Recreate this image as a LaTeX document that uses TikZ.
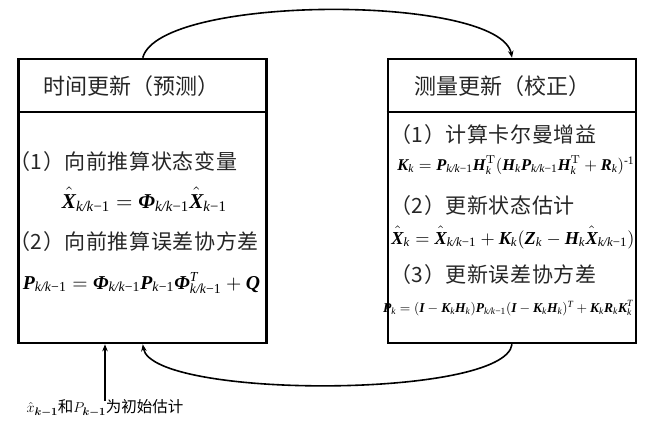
\documentclass[tikz,border=0pt]{standalone}
\usepackage{amsmath}
\usepackage{graphicx}
\usepackage{fontspec}
\newfontfamily\cjk{Noto Sans CJK SC}
\newfontfamily\tms{Liberation Serif}
\usetikzlibrary{arrows.meta}
\newcommand{\bv}[1]{\text{\tms\bfseries\itshape #1}}
\newcommand{\iv}[1]{\text{\tms\itshape #1}}
\newcommand{\kk}{\text{\tms\itshape k/k\textup{−1}}}
\newcommand{\km}{\text{\tms\itshape k\textup{−1}}}
\newcommand{\kx}{\text{\tms\itshape k}}
\newcommand{\hX}{\hat{\bv{X}\rule{0pt}{0.76em}}}
\begin{document}
\begin{tikzpicture}[x=1pt,y=-1pt,
  box/.style={draw, line width=2.6pt, minimum width=248pt, minimum height=284pt, inner sep=0pt},
  hdr/.style={font=\cjk\fontsize{22}{24}\selectfont, inner sep=0pt, text=black!85},
  item/.style={font=\cjk\fontsize{21}{23}\selectfont\addfontfeature{LetterSpace=3}, inner sep=0pt, anchor=west, text=black!85},
  eq/.style={inner sep=0pt},
  conn/.style={line width=1.6pt, -{Stealth[length=7pt,width=5.5pt]}}]
\useasboundingbox (0,0) rectangle (656,424);
\node[box] (L) at (142.75,201) {};
\node[box] (R) at (512,201) {};
\draw[line width=2pt] (L.west |- 0,112) -- (L.east |- 0,112);
\draw[line width=2pt] (R.west |- 0,112) -- (R.east |- 0,112);
\node[hdr] (Lh) at (131,86) {时间更新（预测）};
\node[hdr] (Rh) at (502.5,86) {测量更新（校正）};
% left body
\node[item] (L1) at (9,162) {（1）向前推算状态变量};
\node[eq] (Le1) at (144.5,199) {\resizebox{165pt}{!}{$\hX_{\kk}=\bv{Φ}_{\kk}\hX_{\km}$}};
\node[item] (L2) at (9,242) {（2）向前推算误差协方差};
\node[eq] (Le2) at (141.5,283) {\resizebox{237pt}{!}{$\bv{P}_{\kk}=\bv{Φ}_{\kk}\bv{P}_{\km}\bv{Φ}^{\iv{T}}_{\kk}+\bv{Q}$}};
% right body
\node[item] (R1) at (390,135) {（1）计算卡尔曼增益};
\node[eq] (Re1) at (516,165) {\resizebox{237pt}{!}{$\bv{K}_{\kx}=\bv{P}_{\kk}\bv{H}_{\kx}^{\mathrm{T}}(\bv{H}_{\kx}\bv{P}_{\kk}\bv{H}_{\kx}^{\mathrm{T}}+\bv{R}_{\kx})^{\text{\tms -1}}$}};
\node[item] (R2) at (390,206) {（2）更新状态估计};
\node[eq] (Re2) at (513,237) {\resizebox{243pt}{!}{$\hX_{\kx}=\hX_{\kk}+\bv{K}_{\kx}(\bv{Z}_{\kx}-\bv{H}_{\kx}\hX_{\kk})$}};
\node[item] (R3) at (390,275) {（3）更新误差协方差};
\node[eq] (Re3) at (508,308) {\resizebox{250pt}{!}{$\bv{P}_{\kx}=(\bv{I}-\bv{K}_{\kx}\bv{H}_{\kx})\bv{P}_{\kk}(\bv{I}-\bv{K}_{\kx}\bv{H}_{\kx})^{\iv{T}}+\bv{K}_{\kx}\bv{R}_{\kx}\bv{K}_{\kx}^{\iv{T}}$}};
% initial estimate label
\node[inner sep=0pt, font=\cjk\fontsize{15.5}{17}\selectfont] (init) at (105,408) {$\hat{x}_{\boldsymbol{k-1}}$和$P_{\boldsymbol{k-1}}$为初始估计};
% connectors
\draw[conn] (L.north) .. controls (160,-6) and (500,-6) .. (R.north);
\draw[conn] (R.south) .. controls (505,399) and (152,399) .. (L.south);
\draw[conn] ([yshift=-2pt]init.north) -- (init.north |- L.south);
\end{tikzpicture}
\end{document}
